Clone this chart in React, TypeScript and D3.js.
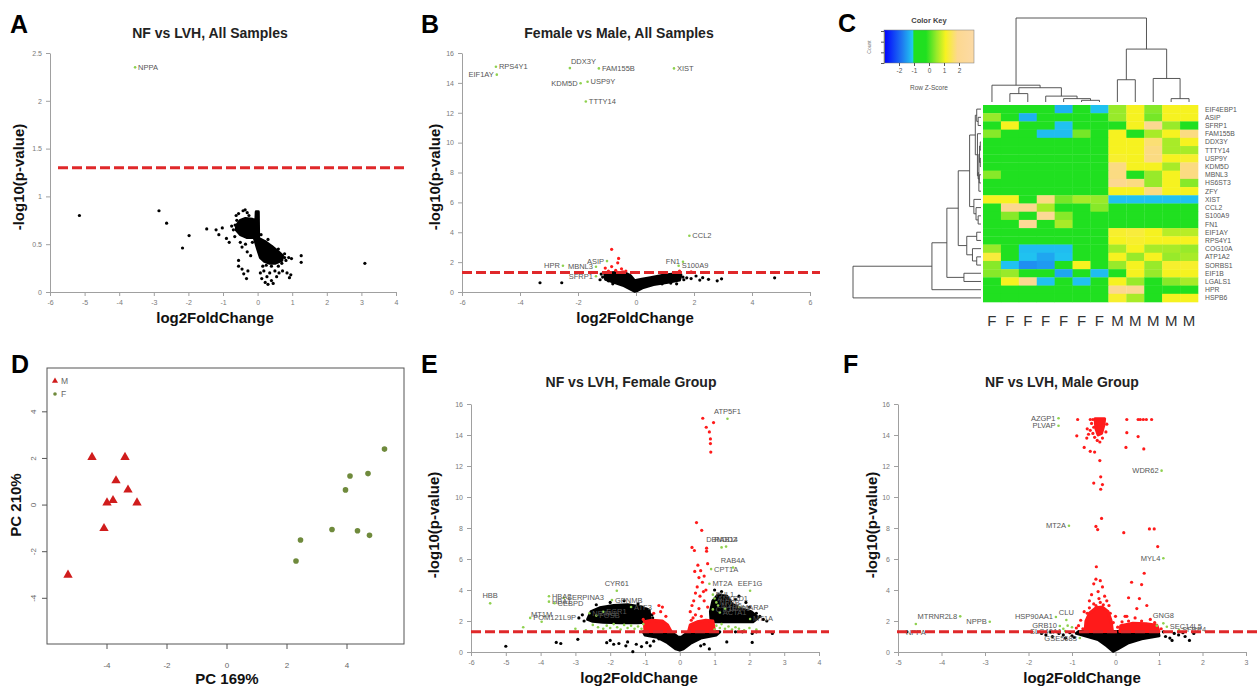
import React, { useEffect, useRef } from 'react';
import * as d3 from 'd3';

type Pt = [number, number];
type Lab = [string, number, number, string];

const FONT = "'Liberation Sans', Arial, Helvetica, sans-serif";
const THRESHOLD = 1.3; // -log10(0.05)

// ---------- A: NF vs LVH, All Samples ----------
const aXTicks = [-6, -5, -4, -3, -2, -1, 0, 1, 2, 3, 4];
const aYTicks = [0, 0.5, 1, 1.5, 2, 2.5];
const aBlackClouds: Pt[][] = [
  [[-0.6, 0.7], [-0.5, 0.75], [-0.35, 0.77], [-0.15, 0.76], [-0.05, 0.75], [-0.04, 0.84], [0.02, 0.84], [0.03, 0.56],
   [0.2, 0.53], [0.4, 0.48], [0.6, 0.42], [0.72, 0.38], [0.7, 0.33], [0.5, 0.3], [0.35, 0.3], [0.2, 0.32],
   [0.08, 0.36], [0.0, 0.45], [-0.1, 0.57], [-0.3, 0.57], [-0.5, 0.6], [-0.62, 0.65]],
];
const aBlack: Pt[] = [
  [-5.15, 0.8], [-2.85, 0.85], [-2.63, 0.72], [-1.98, 0.59], [-2.17, 0.46], [-1.47, 0.66], [-1.2, 0.65], [-1.12, 0.6],
  [-1.02, 0.67], [-0.9, 0.56], [-0.82, 0.52], [-0.75, 0.69], [-0.7, 0.65], [-0.66, 0.58], [-0.62, 0.8], [-0.55, 0.82],
  [-0.42, 0.85], [-0.36, 0.86], [-0.3, 0.83], [-0.5, 0.52], [-0.45, 0.47], [-0.35, 0.5], [-0.3, 0.42], [-0.55, 0.33],
  [-0.55, 0.27], [-0.45, 0.24], [-0.4, 0.19], [-0.32, 0.14], [-0.28, 0.22], [-0.2, 0.38], [0.08, 0.2], [0.12, 0.14],
  [0.18, 0.22], [0.22, 0.1], [0.27, 0.16], [0.3, 0.08], [0.35, 0.2], [0.4, 0.12], [0.45, 0.09], [0.5, 0.22],
  [0.55, 0.16], [0.6, 0.27], [0.62, 0.2], [0.7, 0.3], [0.72, 0.22], [0.78, 0.36], [0.82, 0.33], [0.85, 0.2],
  [0.9, 0.36], [0.92, 0.15], [0.96, 0.18], [0.98, 0.35], [1.26, 0.38], [1.26, 0.31], [3.1, 0.3], [0.25, 0.28],
  [0.4, 0.27], [0.15, 0.27], [0.5, 0.35], [-0.6, 0.75], [-0.65, 0.7], [-0.15, 0.52], [-0.25, 0.8], [0.1, 0.6],
  [0.6, 0.45], [0.78, 0.4], [0.3, 0.55],
];
const aLabels: Lab[] = [['NPPA', -3.54, 2.35, 'r']];

// ---------- B: Female vs Male, All Samples ----------
const bXTicks = [-6, -4, -2, 0, 2, 4, 6];
const bYTicks = [0, 2, 4, 6, 8, 10, 12, 14, 16];
const bBlackClouds: Pt[][] = [
  [[-1.08, 1.25], [-0.7, 1.3], [-0.4, 1.3], [-0.2, 1.1], [-0.05, 0.75], [0.2, 0.85], [0.5, 0.95], [0.9, 1.1],
   [1.3, 1.2], [1.55, 1.15], [1.5, 0.8], [1.1, 0.65], [0.6, 0.5], [0.25, 0.3], [0.05, 0.1], [-0.05, 0.05],
   [-0.2, 0.2], [-0.45, 0.45], [-0.75, 0.65], [-1.05, 0.85]],
];
const bBlack: Pt[] = [
  [-3.31, 0.62], [-2.56, 0.62], [-1.24, 0.82], [-1.15, 1.0], [-0.95, 0.75], [1.62, 1.0], [1.75, 0.95], [2.07, 1.07],
  [2.3, 0.96], [2.5, 0.85], [2.8, 0.75], [2.95, 0.88], [4.78, 0.95], [1.65, 0.82], [1.4, 0.55], [-0.8, 0.55],
  [1.9, 0.9], [2.2, 0.8], [-1.2, 1.2], [0.9, 0.55], [1.2, 0.6],
];
const bRed: Pt[] = [
  [-0.84, 2.86], [-0.6, 2.25], [-0.63, 1.95], [-0.84, 1.7], [-1.06, 1.6], [-0.5, 1.55], [-0.35, 1.4], [-0.7, 1.45],
  [-0.95, 1.4], [-0.45, 1.35], [1.5, 1.4], [1.9, 1.35],
];
const bLabels: Lab[] = [
  ['RPS4Y1', -4.83, 15.08, 'r'], ['EIF1AY', -4.8, 14.55, 'l'], ['DDX3Y', -2.28, 14.99, 'tr'],
  ['FAM155B', -1.28, 14.97, 'r'], ['KDM5D', -1.91, 13.97, 'l'], ['USP9Y', -1.67, 14.08, 'r'],
  ['TTTY14', -1.73, 12.75, 'r'], ['XIST', 1.31, 14.97, 'r'], ['CCL2', 1.84, 3.77, 'r'],
  ['HPR', -2.52, 1.76, 'l'], ['ASIP', -1.0, 2.07, 'l'], ['MBNL3', -1.38, 1.69, 'l'],
  ['SFRP1', -1.38, 1.05, 'l'], ['FN1', 1.62, 2.03, 'l'], ['S100A9', 1.47, 1.76, 'r'],
];

// ---------- E: NF vs LVH, Female Group ----------
const eXTicks = [-6, -5, -4, -3, -2, -1, 0, 1, 2, 3, 4];
const eYTicks = [0, 2, 4, 6, 8, 10, 12, 14, 16];
const eBlackClouds: Pt[][] = [
  [[-2.65, 2.1], [-2.55, 2.6], [-2.3, 2.85], [-1.9, 3.0], [-1.5, 3.05], [-1.1, 2.9], [-0.88, 2.7], [-0.85, 1.95],
   [-1.2, 1.88], [-1.7, 1.88], [-2.2, 1.92], [-2.5, 1.98]],
  [[0.9, 1.95], [0.88, 2.6], [0.95, 3.3], [1.1, 3.7], [1.35, 3.6], [1.5, 3.1], [1.75, 2.8], [2.05, 2.6],
   [2.25, 2.2], [2.1, 1.95]],
  [[-1.05, 1.3], [-0.25, 1.3], [-0.05, 0.95], [0.05, 0.95], [0.25, 1.3], [1.15, 1.3], [1.05, 1.1], [0.6, 0.9],
   [0.3, 0.55], [0.1, 0.2], [0, 0.12], [-0.12, 0.2], [-0.35, 0.6], [-0.65, 0.95], [-1.0, 1.1]],
];
const eRedClouds: Pt[][] = [
  [[-1.0, 1.32], [-1.02, 1.95], [-0.8, 2.05], [-0.5, 2.0], [-0.35, 1.75], [-0.25, 1.32]],
  [[0.25, 1.32], [0.3, 1.75], [0.5, 1.95], [0.75, 2.05], [0.95, 2.0], [1.0, 1.32]],
];
const eBlack: Pt[] = [
  [-5.0, 0.37], [-3.55, 0.62], [-3.42, 0.55], [-2.93, 0.82], [-2.55, 1.3], [-2.1, 0.6], [-2.0, 0.75], [-1.9, 0.5],
  [-1.75, 0.55], [-1.55, 0.4], [-1.5, 0.65], [-1.35, 0.02], [-1.25, 0.5], [-1.1, 0.35], [-0.95, 0.6], [-0.85, 0.4],
  [-0.75, 0.7], [0.6, 0.4], [0.7, 0.5], [0.85, 0.2], [1.35, 0.65], [2.08, 0.62], [2.08, 1.2], [2.66, 1.2],
  [2.2, 1.3], [1.6, 1.3], [1.8, 1.3], [-0.6, 0.85], [-2.9, 2.2], [-2.8, 2.4], [-2.75, 2.0], [-0.8, 2.4],
  [-0.78, 2.2], [2.3, 2.3], [2.4, 2.1], [2.5, 2.0], [2.2, 2.5], [2.0, 2.9], [1.9, 3.2], [1.6, 3.4], [1.7, 3.6],
  [-2.4, 3.05], [-2.0, 3.2], [-1.6, 3.3], [-1.2, 3.1], [1.2, 3.9], [1.0, 4.0],
];
const eRed: Pt[] = [
  [0.66, 15.08], [0.97, 14.8], [0.76, 14.5], [0.85, 14.2], [0.88, 13.75], [0.88, 13.45], [0.89, 12.9], [0.48, 8.35],
  [0.63, 7.85], [0.35, 6.75], [0.42, 6.55], [0.77, 6.7], [0.77, 6.5], [0.8, 5.7], [0.43, 5.2], [0.6, 5.25],
  [0.55, 4.8], [0.7, 4.9], [0.65, 4.5], [0.5, 4.2], [0.75, 4.0], [0.45, 3.8], [0.58, 3.6], [0.4, 3.3], [0.7, 3.3],
  [0.35, 3.0], [0.55, 2.8], [0.3, 2.6], [0.45, 2.4], [0.8, 2.9], [0.62, 2.3], [0.38, 2.2], [-0.6, 3.0],
  [-0.5, 2.9], [-0.55, 2.6], [-0.75, 2.5], [-0.4, 2.3], [-1.05, 2.1], [0.52, 5.6], [0.68, 3.9], [0.33, 2.05],
];
const eGreen: Pt[] = [
  [-2.2, 1.5], [-2.1, 1.7], [-2.0, 1.55], [-1.9, 1.8], [-1.8, 1.6], [-1.7, 1.45], [-1.6, 1.75], [-1.5, 1.55],
  [-1.4, 1.7], [-1.3, 1.5], [-1.2, 1.65], [-1.1, 1.5], [-1.05, 1.8], [-2.35, 1.6], [-2.5, 1.75], [-2.7, 1.4],
  [-3.0, 1.5], [-4.5, 1.6], [1.0, 1.45], [1.05, 1.7], [1.15, 1.55], [1.2, 1.8], [1.3, 1.5], [1.4, 1.65],
  [1.5, 1.45], [1.6, 1.6], [1.7, 1.5], [1.85, 1.4], [2.0, 1.55], [2.2, 1.45],
];
const eLabels: Lab[] = [
  ['ATP5F1', 1.37, 15.05, 't'], ['HBB', -5.45, 3.14, 't'], ['CYR61', -1.81, 3.95, 't'], ['EEF1G', 2.02, 3.95, 't'],
  ['DBNDD2', 1.2, 6.75, 't'], ['RAB14', 1.33, 6.8, 't'], ['RAB4A', 1.53, 5.45, 't'], ['CPT1A', 0.9, 5.35, 'r'],
  ['MT2A', 0.85, 4.4, 'r'], ['HBA2', -3.76, 3.6, 'r'], ['HBA1', -3.76, 3.25, 'r'], ['CEBPD', -3.6, 3.15, 'r'],
  ['SERPINA3', -3.33, 3.5, 'r'], ['GPNMB', -1.95, 3.35, 'r'], ['MT1M', -3.97, 1.95, 't'], ['POM121L9P', -4.3, 2.2, 'r'],
  ['NR4A1', -2.6, 2.5, 'r'], ['FOSB', -2.4, 2.35, 'r'], ['EGR1', -2.2, 2.6, 'r'], ['ATF3', -1.4, 2.9, 'r'],
  ['FHL1', 0.95, 3.7, 'r'], ['ANKRD1', 1.0, 3.45, 'r'], ['NPPB', 1.05, 3.2, 'r'], ['MYH6', 1.1, 3.0, 'r'],
  ['CTGF', 0.95, 2.75, 'r'], ['ACTA1', 1.15, 2.55, 'r'], ['TIMP1', 1.3, 2.8, 'r'], ['MARAP', 1.7, 2.9, 'r'],
  ['MT1A', 2.02, 2.13, 'r'],
];

// ---------- F: NF vs LVH, Male Group ----------
const fXTicks = [-5, -4, -3, -2, -1, 0, 1, 2, 3];
const fYTicks = [0, 2, 4, 6, 8, 10, 12, 14, 16];
const fBlackClouds: Pt[][] = [
  [[-0.85, 1.32], [0.98, 1.32], [1.0, 1.05], [0.6, 0.85], [0.3, 0.6], [0.05, 0.2], [-0.05, 0.05], [-0.2, 0.4],
   [-0.4, 0.8], [-0.7, 1.05], [-0.9, 1.2]],
];
const fRedClouds: Pt[][] = [
  [[-0.7, 1.32], [-0.68, 2.0], [-0.6, 2.5], [-0.45, 2.85], [-0.3, 2.9], [-0.17, 2.6], [-0.1, 2.0], [-0.07, 1.32]],
  [[0.1, 1.32], [0.12, 1.7], [0.4, 1.85], [0.7, 1.82], [0.95, 1.72], [1.0, 1.32]],
  [[-0.47, 15.05], [-0.25, 15.05], [-0.27, 14.6], [-0.32, 14.1], [-0.4, 14.0], [-0.45, 14.4]],
];
const fBlack: Pt[] = [
  [-1.7, 1.2], [-1.6, 1.1], [-1.5, 1.3], [-1.45, 1.0], [-1.3, 1.2], [-1.2, 1.1], [-1.15, 0.9], [-1.05, 1.25],
  [-1.0, 1.05], [1.15, 1.0], [1.25, 0.9], [1.35, 1.2], [1.45, 1.1], [1.55, 1.25], [1.6, 1.0], [1.7, 0.75],
  [1.8, 1.2], [1.3, 0.75], [1.1, 1.3], [-0.95, 0.95], [-4.8, 1.3],
];
const fRed: Pt[] = [
  [-0.87, 15.0], [-0.58, 15.0], [-0.52, 15.0], [0.26, 15.0], [0.52, 15.0], [0.57, 15.0], [0.64, 15.0],
  [0.71, 15.0], [0.83, 15.0], [-0.55, 14.75], [-0.5, 14.5], [-0.58, 14.3], [-0.52, 14.1], [-0.48, 13.85],
  [-0.3, 13.8], [-0.22, 14.2], [-0.2, 14.7], [-0.36, 13.55], [-0.42, 13.65],
  [-0.65, 14.4], [-0.62, 14.05], [-0.89, 13.95], [-0.72, 13.2], [-0.58, 12.95], [-0.48, 12.9], [-0.36, 12.35],
  [-0.34, 11.3], [-0.5, 10.9], [-0.3, 10.8], [-0.34, 10.5], [-0.32, 8.62], [-0.45, 8.1], [-0.41, 7.9],
  [0.19, 7.7], [0.78, 7.94], [0.89, 7.94], [0.97, 6.8], [0.26, 14.15], [0.52, 13.9], [0.24, 13.2], [0.65, 13.1],
  [-0.44, 5.5], [0.66, 5.08], [0.37, 4.5], [0.6, 4.35], [-0.45, 4.7], [-0.5, 4.4], [-0.35, 4.6], [-0.3, 4.2],
  [-0.4, 3.9], [-0.55, 3.7], [-0.25, 3.6], [-0.38, 3.45], [-0.6, 3.3], [-0.2, 3.3], [0.72, 3.0], [0.49, 2.8],
  [0.22, 2.3], [0.26, 2.3], [0.0, 2.3], [-0.8, 2.05], [-0.85, 1.7], [-0.75, 1.5], [0.3, 3.5], [0.55, 3.45],
  [0.45, 2.2], [0.8, 2.1], [-0.9, 1.55], [-0.65, 2.5], [-0.15, 3.0], [-0.5, 3.1], [-0.66, 13.8],
  [-0.72, 2.6], [-0.6, 2.85], [-0.28, 3.05], [-0.12, 2.5], [-0.05, 1.9], [0.05, 1.6], [0.15, 1.95], [0.3, 2.0],
  [0.6, 2.0], [0.9, 1.9], [1.05, 1.5], [-0.35, 3.2], [-0.45, 3.0],
];
const fGreen: Pt[] = [[-1.0, 1.6], [-1.2, 1.5], [0.95, 1.7], [-1.1, 1.7]];
const fLabels: Lab[] = [
  ['AZGP1', -1.31, 15.08, 'l'], ['PLVAP', -1.31, 14.6, 'l'], ['WDR62', 1.06, 11.7, 'l'], ['MT2A', -1.07, 8.15, 'l'],
  ['MYL4', 1.1, 6.05, 'l'], ['GNG8', 1.1, 1.85, 't'], ['SEC14L5', 1.18, 1.63, 'r'], ['MTRNR2L8', -3.57, 2.3, 'l'],
  ['NPPB', -2.89, 1.95, 'l'], ['NPPA', -4.59, 1.81, 'b'], ['HSP90AA1', -1.37, 2.26, 'l'], ['CLU', -1.13, 2.06, 't'],
  ['GRB10', -1.28, 1.68, 'l'], ['SLC40A1', -1.16, 1.35, 'l'], ['GSE5683', -0.82, 0.9, 'l'], ['SFRP4', 1.46, 1.42, 'r'],
];

// ---------- D: PCA ----------
const pcaTicks = [-4, -2, 0, 2, 4];
const pcaM: Pt[] = [[-4.5, 2.05], [-3.4, 2.05], [-3.7, 1.05], [-3.3, 0.65], [-3.8, 0.2], [-4.0, 0.1], [-3.0, 0.1], [-4.1, -1.0], [-5.3, -3.0]];
const pcaF: Pt[] = [[5.25, 2.4], [4.1, 1.25], [4.7, 1.35], [3.95, 0.65], [3.5, -1.05], [4.35, -1.1], [4.75, -1.3], [2.45, -1.5], [2.3, -2.4]];

// ---------- C: heatmap ----------
const hmGenes = ['EIF4EBP1', 'ASIP', 'SFRP1', 'FAM155B', 'DDX3Y', 'TTTY14', 'USP9Y', 'KDM5D', 'MBNL3', 'HS6ST3', 'ZFY', 'XIST',
  'CCL2', 'S100A9', 'FN1', 'EIF1AY', 'RPS4Y1', 'COG10A', 'ATP1A2', 'SORBS1', 'EIF1B', 'LGALS1', 'HPR', 'HSPB6'];
const hmSamples = ['F', 'F', 'F', 'F', 'F', 'F', 'F', 'M', 'M', 'M', 'M', 'M'];
const hmZ = [
  [-0.5, -0.5, -0.5, -0.5, -1.3, -0.5, -1.15, 0.5, 1.1, 0.4, 1.1, 1.1],
  [0.5, -0.5, -1.3, -0.5, -0.5, -0.5, -0.5, 0.5, 1.1, 0.3, 1.1, 1.1],
  [-0.5, 1.1, -0.5, -0.5, -1.15, -0.5, -0.5, -0.3, 1.1, 1.9, 0.5, -0.3],
  [0.4, -0.5, -0.5, -1.2, -1.2, 0.3, -0.5, 1.1, -0.3, 0.6, 1.1, 1.8],
  [-0.5, -0.5, -0.5, -0.5, -0.5, -0.5, -0.5, 1.1, 1.1, 1.7, 0.6, 1.1],
  [-0.5, -0.5, -0.5, -0.5, -0.5, -0.5, -0.5, 1.1, 1.1, 1.8, 0.6, 0.6],
  [-0.5, -0.5, -0.5, -0.5, -0.5, -0.5, -0.5, 1.2, 1.1, 1.8, 1.1, 1.2],
  [-0.5, -0.5, -0.5, -0.5, -0.5, -0.5, -0.5, 1.8, 1.1, 1.1, 0.6, 1.8],
  [0.4, -0.5, -0.5, -0.5, -0.5, -0.5, -0.5, 1.8, -0.4, 0.5, 1.1, 1.8],
  [-0.5, -0.5, -0.5, -0.5, -0.5, -0.5, -0.5, 1.9, 1.8, 0.5, 1.1, 0.4],
  [-0.5, -0.5, -0.5, -0.5, -0.5, -0.5, -0.5, 1.1, 1.1, 1.8, 1.1, 1.1],
  [1.1, 1.1, -0.3, 1.8, 0.3, 0.6, 0.5, -1.15, -1.15, -1.15, -1.15, -1.15],
  [-0.5, 1.9, 1.9, 0.6, -0.4, -0.5, 0.4, -0.5, -0.5, -0.5, -0.5, -0.5],
  [-0.5, 0.4, -0.5, 2.2, 0.4, -0.5, -0.4, -0.6, -0.6, -0.6, -0.6, -0.6],
  [-0.5, -0.5, 2.2, -0.5, 0.6, -0.5, -0.5, -0.5, -0.5, -0.5, -0.5, -0.5],
  [-0.5, -0.5, -0.5, -0.5, -0.5, -0.5, -0.5, 1.2, 1.3, 1.1, 0.7, 0.7],
  [-0.5, -0.5, -0.5, -0.5, -0.5, -0.5, -0.5, 1.1, 1.2, 1.1, 1.1, 1.1],
  [0.5, -0.4, -1.2, -1.2, -1.2, -0.5, -0.5, 0.6, 1.1, 0.6, 0.6, 0.5],
  [1.3, -0.4, -1.15, -1.4, -1.15, -0.5, -0.5, 1.1, 0.5, 1.1, 0.5, 0.6],
  [0.4, -1.15, -1.6, -1.5, -0.4, 1.1, -0.5, 0.5, 1.1, 0.5, 1.2, 1.2],
  [0.4, 0.5, -0.5, -0.5, -1.4, -0.5, -1.2, -0.3, 1.1, 0.5, 1.1, 1.1],
  [-0.5, 1.1, 1.9, -1.15, -0.5, -1.15, -0.5, 1.1, 0.5, -0.4, 0.4, 0.6],
  [-0.5, -0.5, -0.5, -0.5, -0.5, -0.5, -0.5, 1.9, 2.0, -0.5, -0.5, -0.4],
  [-0.5, -0.5, -0.5, -0.5, -0.5, -0.5, -0.5, 1.2, 0.6, -0.4, 1.1, 1.1],
];
// hclust-style merges: negative = leaf index (1-based), positive = earlier merge, third = height
const rowMerges = [
  [-5, -6, 0.05], [-7, -8, 0.05], [1, 2, 0.1], [-11, 3, 0.15], [-9, -10, 0.12], [4, 5, 0.2], [-4, 6, 0.25],
  [-2, -3, 0.2], [-1, 8, 0.3], [9, 7, 0.4], [-14, -15, 0.2], [-13, 11, 0.35], [-12, 12, 0.5], [10, 13, 0.8],
  [-16, -17, 0.3], [-19, -20, 0.3], [-18, 16, 0.6], [15, 17, 1.0], [14, 18, 1.6], [-21, -22, 1.2], [19, 20, 2.4],
  [21, -23, 3.45], [22, -24, 9.0],
];
const colMerges = [
  [-6, -7, 0.2], [-5, 1, 0.4], [-4, 2, 0.7], [-2, -3, 1.0], [4, 3, 1.7], [-1, 5, 2.0],
  [-11, -12, 0.4], [-10, 7, 2.8], [-8, -9, 2.65], [9, 8, 6.3], [6, 10, 10],
];
const keyTicks = [-2, -1, 0, 1, 2];

const zColor = d3.scaleLinear<string>()
  .domain([-3, -1.8, -1.1, -1.0, -0.2, 0.5, 1.1, 1.9, 3])
  .range(['#0000ff', '#1e78f0', '#20c8f0', '#20e020', '#20e020', '#98ea2a', '#f6f220', '#fcd890', '#fcdaa6'])
  .clamp(true);

const panels = [
  { title: 'NF vs LVH, All Samples', xDomain: [-6, 4], yDomain: [0, 2.5], xRange: [50, 396], yRange: [292, 53],
    xTicks: aXTicks, yTicks: aYTicks, dash: [58, 407], titleXY: [210, 38], xlabXY: [215, 323], ylabXY: [24, 177],
    blackClouds: aBlackClouds, black: aBlack, redClouds: [], red: [], green: [], labels: aLabels },
  { title: 'Female vs Male, All Samples', xDomain: [-6, 6], yDomain: [0, 16], xRange: [462, 810], yRange: [292, 53],
    xTicks: bXTicks, yTicks: bYTicks, dash: [462, 820], titleXY: [619, 38], xlabXY: [635, 323], ylabXY: [440, 177],
    blackClouds: bBlackClouds, black: bBlack, redClouds: [], red: bRed, green: [], labels: bLabels },
  { title: 'NF vs LVH, Female Group', xDomain: [-6, 4], yDomain: [0, 16], xRange: [471, 819], yRange: [652, 404],
    xTicks: eXTicks, yTicks: eYTicks, dash: [471, 829], titleXY: [631, 387], xlabXY: [639, 683], ylabXY: [439, 525],
    blackClouds: eBlackClouds, black: eBlack, redClouds: eRedClouds, red: eRed, green: eGreen, labels: eLabels },
  { title: 'NF vs LVH, Male Group', xDomain: [-5, 3], yDomain: [0, 16], xRange: [898, 1246], yRange: [652, 404],
    xTicks: fXTicks, yTicks: fYTicks, dash: [897, 1259], titleXY: [1062, 387], xlabXY: [1082, 683], ylabXY: [877, 525],
    blackClouds: fBlackClouds, black: fBlack, redClouds: fRedClouds, red: fRed, green: fGreen, labels: fLabels },
];

const tidyAxis = (sel: any, size: number) => {
  sel.attr('font-family', FONT).attr('font-size', size);
  sel.select('.domain').attr('stroke', '#a0a0a0');
  sel.selectAll('.tick line').attr('stroke', '#a0a0a0');
  sel.selectAll('.tick text').attr('fill', '#7a7a7a');
};

const labelPlace: Record<string, [number, number, string]> = {
  r: [3, 2.5, 'start'], l: [-3, 2.5, 'end'], t: [0, -5, 'middle'], b: [0, 11, 'middle'], tr: [1, -4, 'start'],
};

function drawVolcano(svg: any, p: any) {
  const x = d3.scaleLinear().domain(p.xDomain).range(p.xRange);
  const y = d3.scaleLinear().domain(p.yDomain).range(p.yRange);
  const g = svg.append('g');

  g.append('g').attr('transform', `translate(0,${p.yRange[0]})`)
    .call(d3.axisBottom(x).tickValues(p.xTicks).tickSize(4).tickSizeOuter(0).tickPadding(4).tickFormat((d: any) => String(d)))
    .call((s: any) => tidyAxis(s, 7));
  g.append('g').attr('transform', `translate(${p.xRange[0]},0)`)
    .call(d3.axisLeft(y).tickValues(p.yTicks).tickSize(4).tickSizeOuter(0).tickPadding(4).tickFormat((d: any) => String(d)))
    .call((s: any) => tidyAxis(s, 7));

  const outline = d3.line<Pt>().x(d => x(d[0])).y(d => y(d[1])).curve(d3.curveLinearClosed);
  const clouds = (data: Pt[][], color: string) => g.append('g').selectAll('path').data(data).join('path')
    .attr('d', (d: Pt[]) => outline(d)).attr('fill', color).attr('stroke', color)
    .attr('stroke-width', 3).attr('stroke-linejoin', 'round');
  const dots = (data: Pt[], color: string, r: number) => g.append('g').selectAll('circle').data(data).join('circle')
    .attr('cx', (d: Pt) => x(d[0])).attr('cy', (d: Pt) => y(d[1])).attr('r', r).attr('fill', color);

  clouds(p.blackClouds, '#000');
  dots(p.black, '#000', 1.6);
  clouds(p.redClouds, '#ff1a1a');
  dots(p.red, '#ff1a1a', 1.6);
  dots(p.green, '#8fd14f', 1.3);
  dots(p.labels.map((l: Lab) => [l[1], l[2]]), '#8fd14f', 1.3);

  g.append('g').selectAll('text').data(p.labels).join('text')
    .attr('x', (d: Lab) => x(d[1]) + labelPlace[d[3]][0])
    .attr('y', (d: Lab) => y(d[2]) + labelPlace[d[3]][1])
    .attr('text-anchor', (d: Lab) => labelPlace[d[3]][2])
    .attr('font-size', 7.5).attr('fill', '#555')
    .text((d: Lab) => d[0]);

  // significance threshold
  g.append('line')
    .attr('x1', p.dash[0]).attr('x2', p.dash[1])
    .attr('y1', y(THRESHOLD)).attr('y2', y(THRESHOLD))
    .attr('stroke', '#e0282a').attr('stroke-width', 3).attr('stroke-dasharray', '10 4');

  g.append('text').attr('x', p.titleXY[0]).attr('y', p.titleXY[1]).attr('text-anchor', 'middle')
    .attr('font-size', 14).attr('font-weight', 'bold').attr('fill', '#222').text(p.title);
  g.append('text').attr('x', p.xlabXY[0]).attr('y', p.xlabXY[1]).attr('text-anchor', 'middle')
    .attr('font-size', 15).attr('font-weight', 'bold').attr('fill', '#111').text('log2FoldChange');
  g.append('text').attr('transform', `translate(${p.ylabXY[0]},${p.ylabXY[1]}) rotate(-90)`).attr('text-anchor', 'middle')
    .attr('font-size', 15).attr('font-weight', 'bold').attr('fill', '#111').text('-log10(p-value)');
}

function drawPCA(svg: any) {
  const x = d3.scaleLinear().domain([-6, 5.9]).range([47, 404]);
  const y = d3.scaleLinear().domain([-5.96, 5.88]).range([644, 368]);
  const g = svg.append('g');
  g.append('rect').attr('x', 47).attr('y', 368).attr('width', 357).attr('height', 276)
    .attr('fill', 'none').attr('stroke', '#555').attr('stroke-width', 1);

  g.append('g').selectAll('line').data(pcaTicks).join('line')
    .attr('x1', (d: number) => x(d)).attr('x2', (d: number) => x(d)).attr('y1', 644).attr('y2', 649).attr('stroke', '#555');
  g.append('g').selectAll('text').data(pcaTicks).join('text')
    .attr('x', (d: number) => x(d)).attr('y', 668).attr('text-anchor', 'middle')
    .attr('font-size', 8).attr('fill', '#666').text((d: number) => String(d));
  g.append('g').selectAll('line').data(pcaTicks).join('line')
    .attr('y1', (d: number) => y(d)).attr('y2', (d: number) => y(d)).attr('x1', 42).attr('x2', 47).attr('stroke', '#555');
  g.append('g').selectAll('text').data(pcaTicks).join('text')
    .attr('transform', (d: number) => `translate(36,${y(d)}) rotate(-90)`).attr('text-anchor', 'middle')
    .attr('font-size', 8).attr('fill', '#666').text((d: number) => String(d));

  const tri = d3.symbol().type(d3.symbolTriangle).size(38);
  g.append('g').selectAll('path').data(pcaM).join('path')
    .attr('transform', (d: Pt) => `translate(${x(d[0])},${y(d[1])})`).attr('d', tri()).attr('fill', '#d01c1c');
  g.append('g').selectAll('circle').data(pcaF).join('circle')
    .attr('cx', (d: Pt) => x(d[0])).attr('cy', (d: Pt) => y(d[1])).attr('r', 2.8).attr('fill', '#6f8a3c');

  // legend
  g.append('path').attr('transform', 'translate(55,381)').attr('d', d3.symbol().type(d3.symbolTriangle).size(16)()).attr('fill', '#d01c1c');
  g.append('circle').attr('cx', 55).attr('cy', 394).attr('r', 1.8).attr('fill', '#6f8a3c');
  g.append('text').attr('x', 61).attr('y', 384).attr('font-size', 8.5).attr('fill', '#666').text('M');
  g.append('text').attr('x', 61).attr('y', 397).attr('font-size', 8.5).attr('fill', '#666').text('F');

  g.append('text').attr('x', 227).attr('y', 684).attr('text-anchor', 'middle')
    .attr('font-size', 15).attr('font-weight', 'bold').attr('fill', '#111').text('PC 169%');
  g.append('text').attr('transform', 'translate(21,505) rotate(-90)').attr('text-anchor', 'middle')
    .attr('font-size', 15).attr('font-weight', 'bold').attr('fill', '#111').text('PC 210%');
}

function dendroSegments(merges: number[][], leafPos: (i: number) => number) {
  const pos: number[] = [];
  const ht: number[] = [];
  const get = (k: number): [number, number] => (k < 0 ? [leafPos(-k - 1), 0] : [pos[k - 1], ht[k - 1]]);
  return merges.map(([a, b, h], i) => {
    const [pa, ha] = get(a);
    const [pb, hb] = get(b);
    pos[i] = (pa + pb) / 2;
    ht[i] = h;
    return [[pa, ha], [pa, h], [pb, h], [pb, hb]] as Pt[];
  });
}

function drawHeatmap(svg: any) {
  const g = svg.append('g');
  const cx = d3.scaleBand<number>().domain(d3.range(hmSamples.length)).range([983, 1198]);
  const ry = d3.scaleBand<number>().domain(d3.range(hmGenes.length)).range([105, 302]);

  hmZ.forEach((row, r) => {
    g.append('g').selectAll('rect').data(row).join('rect')
      .attr('x', (_: number, c: number) => cx(c)).attr('y', ry(r))
      .attr('width', cx.bandwidth() + 0.3).attr('height', ry.bandwidth() + 0.3)
      .attr('fill', (d: number) => zColor(d));
  });

  g.append('g').selectAll('text').data(hmGenes).join('text')
    .attr('x', 1205).attr('y', (_: string, i: number) => (ry(i) as number) + ry.bandwidth() / 2 + 2.5)
    .attr('font-size', 6.8).attr('fill', '#555').text((d: string) => d);
  g.append('g').selectAll('text').data(hmSamples).join('text')
    .attr('x', (_: string, i: number) => (cx(i) as number) + cx.bandwidth() / 2).attr('y', 326)
    .attr('text-anchor', 'middle').attr('font-size', 15).attr('fill', '#333').text((d: string) => d);

  // dendrograms
  const colH = d3.scaleLinear().domain([0, 10]).range([102, 18]);
  const rowH = d3.scaleLinear().domain([0, 9]).range([981, 853]);
  const path = d3.line<Pt>();
  const colSegs = dendroSegments(colMerges, i => (cx(i) as number) + cx.bandwidth() / 2);
  g.append('g').selectAll('path').data(colSegs).join('path')
    .attr('d', (s: Pt[]) => path(s.map(([p, h]) => [p, colH(h)] as Pt)))
    .attr('fill', 'none').attr('stroke', '#444').attr('stroke-width', 0.9);
  const rowSegs = dendroSegments(rowMerges, i => (ry(i) as number) + ry.bandwidth() / 2);
  g.append('g').selectAll('path').data(rowSegs).join('path')
    .attr('d', (s: Pt[]) => path(s.map(([p, h]) => [rowH(h), p] as Pt)))
    .attr('fill', 'none').attr('stroke', '#444').attr('stroke-width', 0.9);

  // color key
  const kx = d3.scaleLinear().domain([-3, 3]).range([884, 974]);
  const grad = svg.append('defs').append('linearGradient').attr('id', 'zkey');
  grad.selectAll('stop').data(zColor.domain()).join('stop')
    .attr('offset', (d: number) => `${((d + 3) / 6) * 100}%`).attr('stop-color', (d: number) => zColor(d));
  g.append('rect').attr('x', 884).attr('y', 30).attr('width', 90).attr('height', 33)
    .attr('fill', 'url(#zkey)').attr('stroke', '#777').attr('stroke-width', 0.5);
  g.append('g').attr('transform', 'translate(0,63)')
    .call(d3.axisBottom(kx).tickValues(keyTicks).tickSize(3).tickSizeOuter(0).tickPadding(2).tickFormat((d: any) => String(d)))
    .call((s: any) => { tidyAxis(s, 6.5); s.select('.domain').remove(); s.selectAll('.tick line').attr('stroke', '#555'); s.selectAll('.tick text').attr('fill', '#555'); });
  const ky = d3.scaleLinear().domain([0, 30]).range([63, 31]);
  g.append('g').attr('transform', 'translate(884,0)')
    .call(d3.axisLeft(ky).tickValues([0, 10, 20, 30]).tickSize(3).tickSizeOuter(0).tickFormat(() => ''))
    .call((s: any) => { s.select('.domain').attr('stroke', '#777'); s.selectAll('.tick line').attr('stroke', '#555'); });
  g.append('text').attr('transform', 'translate(871,47) rotate(-90)').attr('text-anchor', 'middle')
    .attr('font-size', 5).attr('fill', '#777').text('Count');
  g.append('text').attr('x', 929).attr('y', 23).attr('text-anchor', 'middle')
    .attr('font-size', 7.5).attr('font-weight', 'bold').attr('fill', '#444').text('Color Key');
  g.append('text').attr('x', 929).attr('y', 90).attr('text-anchor', 'middle')
    .attr('font-size', 6.5).attr('fill', '#555').text('Row Z-Score');
}

const panelLetters: [string, number, number][] = [
  ['A', 10, 33], ['B', 421, 33], ['C', 838, 32], ['D', 11, 373], ['E', 421, 373], ['F', 843, 373],
];

const App = () => {
  const svgRef = useRef<SVGSVGElement>(null);

  useEffect(() => {
    const svg = d3.select(svgRef.current);
    svg.selectAll('*').remove();
    svg.attr('font-family', FONT);

    panels.forEach(p => drawVolcano(svg, p));
    drawPCA(svg);
    drawHeatmap(svg);

    svg.append('g').selectAll('text').data(panelLetters).join('text')
      .attr('x', (d: any) => d[1]).attr('y', (d: any) => d[2])
      .attr('font-size', 25).attr('font-weight', 'bold').attr('fill', '#000')
      .text((d: any) => d[0]);
  }, []);

  return (
    <svg ref={svgRef} width={1259} height={691}
      style={{ position: 'absolute', left: 0, top: 0, background: '#fff' }} />
  );
};

export default App;
